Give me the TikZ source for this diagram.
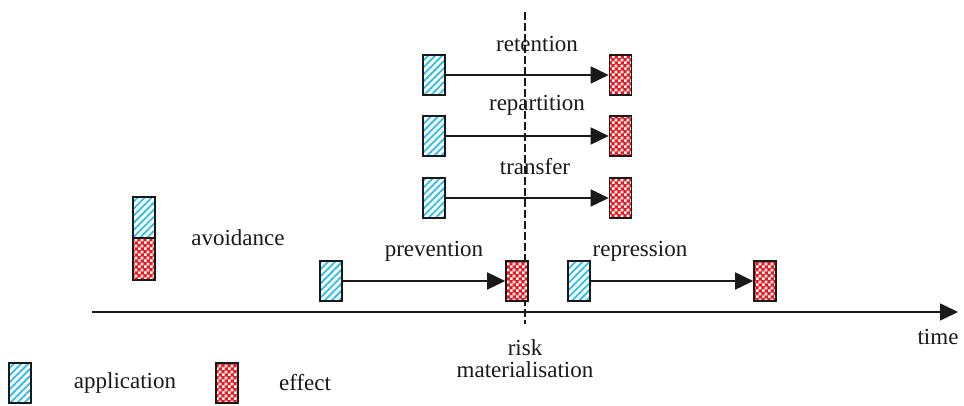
\documentclass[tikz,border=0pt]{standalone}
\usepackage{fontspec}
\setmainfont{Liberation Serif}
\usetikzlibrary{arrows.meta,patterns,patterns.meta}
\definecolor{hatchblue}{RGB}{40,190,240}
\definecolor{checkred}{RGB}{235,25,30}
\definecolor{ink}{RGB}{25,25,25}
\pgfdeclarepatternformonly{mycheck}{\pgfqpoint{0pt}{0pt}}{\pgfqpoint{6pt}{6pt}}{\pgfqpoint{6pt}{6pt}}{%
  \pgfpathrectangle{\pgfqpoint{0pt}{0pt}}{\pgfqpoint{3pt}{3pt}}%
  \pgfpathrectangle{\pgfqpoint{3pt}{3pt}}{\pgfqpoint{3pt}{3pt}}%
  \pgfusepath{fill}}
\tikzset{
  appbox/.style={draw=ink, line width=1.6pt, minimum width=22pt, minimum height=40pt, inner sep=0pt,
    pattern={Lines[angle=45,distance=5pt,line width=1.8pt]}, pattern color=hatchblue},
  effbox/.style={draw=ink, line width=1.6pt, minimum width=22pt, minimum height=40pt, inner sep=0pt,
    preaction={fill=checkred}, pattern=mycheck, pattern color=white},
  lbl/.style={font=\fontsize{23}{25}\selectfont, text=ink, inner sep=0pt},
  conn/.style={line width=1.6pt, draw=ink, -{Triangle[length=18pt,width=17pt]}},
}
\begin{document}
\begin{tikzpicture}[x=1pt,y=-1pt]
\useasboundingbox (0,0) rectangle (964,406);
% risk line
\coordinate (rtop) at (525,12);
\coordinate (rbot) at (525,324);
\draw[line width=1.5pt, ink, dash pattern=on 8pt off 3pt] (rtop) -- (rbot);
% time axis
\coordinate (tstart) at (92,312);
\coordinate (tend) at (958,312);
\draw[conn] (tstart) -- (tend);
\node[lbl] (time) at (938,337) {time};
\node[lbl, align=center] (risk) at (525,359) {risk\\[-3pt]materialisation};
% retention
\node[appbox] (a1) at (434,75) {};
\node[effbox] (e1) at (620.5,75) {};
\draw[conn] (a1) -- (e1);
\node[lbl] (l1) at (537,44) {retention};
% repartition
\node[appbox] (a2) at (434,136) {};
\node[effbox] (e2) at (620.5,136) {};
\draw[conn] (a2) -- (e2);
\node[lbl] (l2) at (537,105) {repartition};
% transfer
\node[appbox] (a3) at (434,198) {};
\node[effbox] (e3) at (620.5,198) {};
\draw[conn] (a3) -- (e3);
\node[lbl] (l3) at (535,167) {transfer};
% avoidance
\node[appbox, minimum height=41pt] (av1) at (144,217.5) {};
\node[effbox, minimum height=42pt] (av2) at (144,259) {};
\node[lbl] (lav) at (238,238) {avoidance};
% prevention
\node[appbox] (a4) at (331,281) {};
\node[effbox] (e4) at (517,281) {};
\draw[conn] (a4) -- (e4);
\node[lbl] (l4) at (434,251) {prevention};
% repression
\node[appbox] (a5) at (579,281) {};
\node[effbox] (e5) at (765,281) {};
\draw[conn] (a5) -- (e5);
\node[lbl] (l5) at (640,251) {repression};
% legend
\node[appbox] (la) at (20,383) {};
\node[lbl] (lta) at (125,383) {application};
\node[effbox] (le) at (227,383) {};
\node[lbl] (lte) at (305,383) {effect};
\end{tikzpicture}
\end{document}
